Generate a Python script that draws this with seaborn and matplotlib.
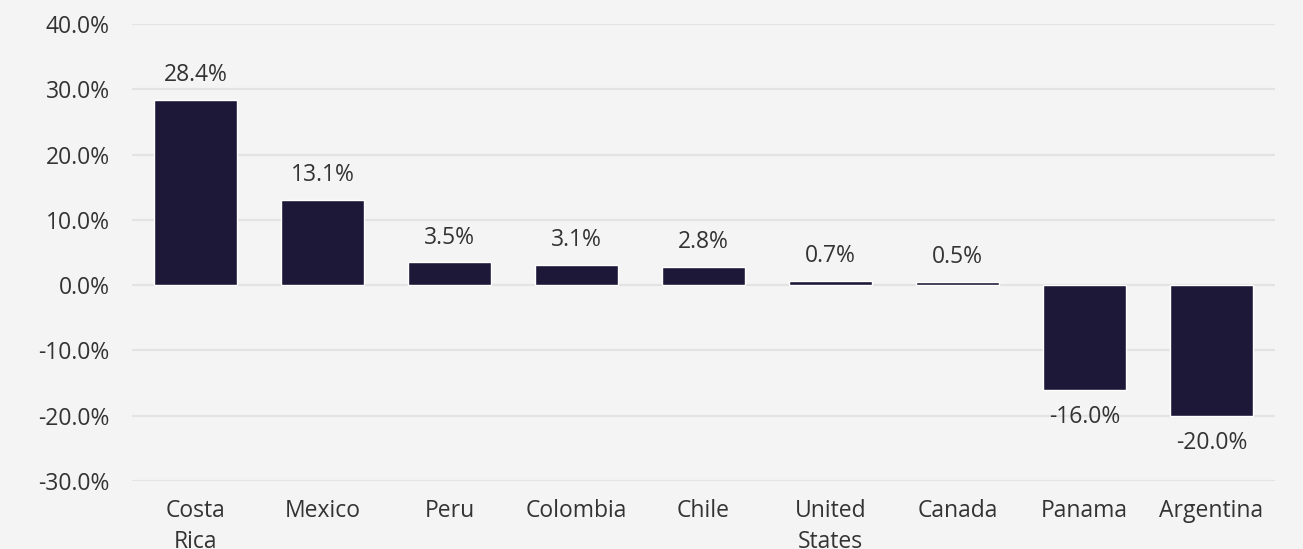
import pandas as pd
import matplotlib.pyplot as plt
import seaborn as sns

countries = ['Costa\nRica', 'Mexico', 'Peru', 'Colombia', 'Chile',
             'United\nStates', 'Canada', 'Panama', 'Argentina']
change_pct = [28.4, 13.1, 3.5, 3.1, 2.8, 0.7, 0.5, -16.0, -20.0]
y_ticks = [-30, -20, -10, 0, 10, 20, 30, 40]

BG = '#f3f4f3'
BAR = '#1e1838'
TXT = '#333333'


def main():
    df = pd.DataFrame({'country': countries, 'change': change_pct})

    sns.set_style('white')
    plt.rcParams['font.family'] = ['Open Sans', 'DejaVu Sans']

    fig = plt.figure(figsize=(13.03, 5.49), dpi=100, facecolor=BG)
    ax = fig.add_axes([0.1013, 0.1239, 0.8772, 0.8324], facecolor=BG)

    sns.barplot(data=df, x='country', y='change', color=BAR, width=0.66,
                saturation=1, ax=ax, zorder=3)

    ax.set_ylim(-30, 40)
    ax.set_yticks(y_ticks)
    ax.set_yticklabels([f'{t:.1f}%' for t in y_ticks])
    ax.grid(axis='y', color='#e2e3e2', linewidth=1.6, zorder=0)
    ax.set_axisbelow(True)
    for s in ax.spines.values():
        s.set_visible(False)
    ax.set_xlabel('')
    ax.set_ylabel('')
    ax.tick_params(axis='both', length=0, labelsize=16.5, labelcolor=TXT)
    ax.tick_params(axis='y', pad=16)
    ax.tick_params(axis='x', pad=13)
    for lbl in ax.get_xticklabels():
        lbl.set_linespacing(1.4)

    for i, v in enumerate(change_pct):
        if v >= 0:
            ax.annotate(f'{v:.1f}%', (i, v), xytext=(0, 9), textcoords='offset points',
                        ha='center', va='bottom', fontsize=16.5, color=TXT)
        else:
            ax.annotate(f'{v:.1f}%', (i, v), xytext=(0, -11), textcoords='offset points',
                        ha='center', va='top', fontsize=16.5, color=TXT)

    fig.savefig('out.png', dpi=100, facecolor=BG)


if __name__ == '__main__':
    main()
